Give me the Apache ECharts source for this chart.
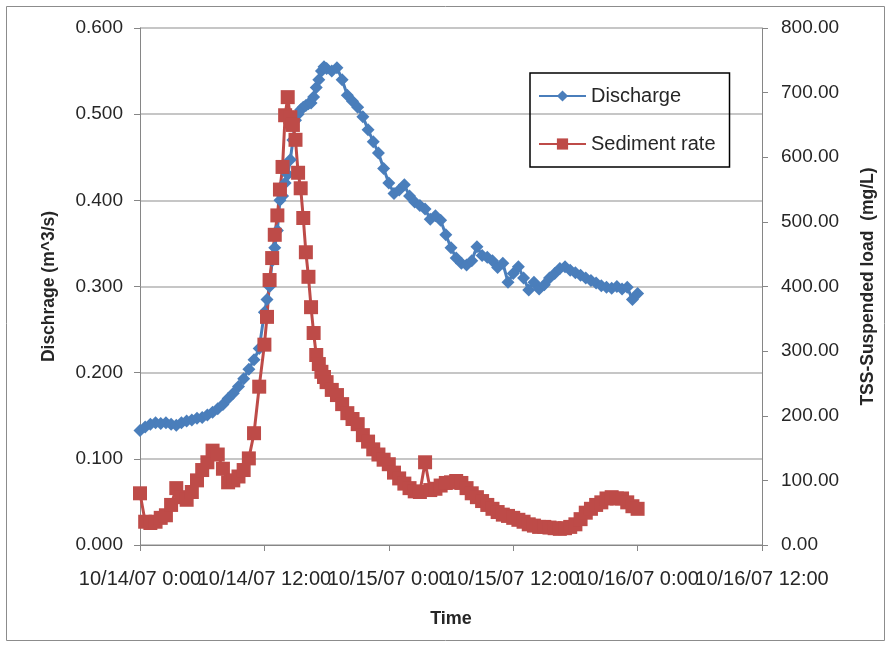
<!DOCTYPE html>
<html>
<head>
<meta charset="utf-8">
<script src="https://cdn.jsdelivr.net/npm/echarts@6/dist/echarts.min.js"></script>
<style>
  html, body { margin: 0; padding: 0; background: #fff; }
  #box { width: 891px; height: 649px; }
</style>
</head>
<body>
<div id="box"></div>
<script>
// hours since 10/14/07 0:00 (15-minute steps around the peak)
var hours = [
    0, 0.5, 1, 1.5, 2, 2.5, 3, 3.5, 4, 4.5, 5, 5.5, 6, 6.5, 7, 7.5, 8, 8.5, 9, 9.5, 10, 10.5, 11, 11.5,
    12, 12.25, 12.5, 12.75, 13, 13.25, 13.5, 13.75, 14, 14.25, 14.5, 14.75, 15, 15.25, 15.5, 15.75,
    16, 16.25, 16.5, 16.75, 17, 17.25, 17.5, 17.75,
    18, 18.5, 19, 19.5, 20, 20.5, 21, 21.5, 22, 22.5, 23, 23.5, 24, 24.5, 25, 25.5, 26, 26.5, 27, 27.5,
    28, 28.5, 29, 29.5, 30, 30.5, 31, 31.5, 32, 32.5, 33, 33.5, 34, 34.5, 35, 35.5, 36, 36.5, 37, 37.5,
    38, 38.5, 39, 39.5, 40, 40.5, 41, 41.5, 42, 42.5, 43, 43.5, 44, 44.5, 45, 45.5, 46, 46.5, 47, 47.5, 48
];

// Discharge (m^3/s)
var discharge = [
    0.133, 0.137, 0.140, 0.142, 0.141, 0.142, 0.140, 0.139, 0.142, 0.144, 0.145, 0.147, 0.148, 0.151, 0.154, 0.158,
    0.163, 0.170, 0.176, 0.184, 0.193, 0.204, 0.215, 0.228,
    0.270, 0.285, 0.300, 0.330, 0.345, 0.365, 0.400, 0.405, 0.420, 0.430, 0.447, 0.470, 0.493, 0.500, 0.505, 0.508,
    0.510, 0.512, 0.513, 0.520, 0.531, 0.540, 0.550, 0.555,
    0.553, 0.550, 0.554, 0.540, 0.522, 0.515, 0.508, 0.497, 0.482, 0.468, 0.455, 0.437, 0.420, 0.408, 0.412, 0.418,
    0.405, 0.398, 0.394, 0.390, 0.378, 0.382, 0.377, 0.360, 0.345, 0.333, 0.327, 0.325, 0.330, 0.346, 0.336, 0.334,
    0.330, 0.322, 0.327, 0.305, 0.315, 0.323, 0.310, 0.296, 0.305, 0.297, 0.302, 0.310, 0.315, 0.321, 0.323, 0.319,
    0.316, 0.313, 0.310, 0.307, 0.304, 0.301, 0.299, 0.298, 0.300, 0.297, 0.299, 0.285, 0.292
];

// TSS-Suspended load (mg/L)
var sediment = [
    80, 36, 34, 36, 42, 46, 62, 88, 74, 70, 82, 100, 116, 128, 146, 140, 118, 97, 100, 106, 116, 134, 173, 245,
    310, 353, 410, 444, 480, 510, 550, 585, 665, 693, 662, 650, 627, 576, 552, 506,
    453, 415, 368, 328, 294, 280, 268, 260,
    252, 240, 232, 218, 204, 195, 187, 170, 160, 148, 140, 132, 125, 112, 103, 95, 88, 83, 82, 128,
    85, 87, 92, 96, 97, 99, 96, 88, 80, 74, 68, 62, 56, 51, 47, 45, 42, 39, 36, 32,
    30, 28, 28, 27, 26, 25, 26, 28, 32, 40, 50, 56, 62, 66, 72, 74, 72, 72, 66, 60, 56
];

var tickLabels = ['10/14/07 0:00', '10/14/07 12:00', '10/15/07 0:00', '10/15/07 12:00', '10/16/07 0:00', '10/16/07 12:00'];

function pairs(vals) {
    return vals.map(function (v, i) { return [hours[i], v]; });
}

var font = 'Liberation Sans, Arial, sans-serif';

// two stacked bottom axes so the overlapping date labels all stay visible
function timeAxis(odd) {
    return {
        type: 'value',
        min: 0,
        max: 60,
        interval: 12,
        position: 'bottom',
        name: odd ? '' : 'Time',
        nameLocation: 'middle',
        nameGap: 65,
        nameTextStyle: { fontFamily: font, fontSize: 18, fontWeight: 'bold', color: '#262626' },
        axisLine: { show: !odd, onZero: false, lineStyle: { color: '#868686', width: 1 } },
        axisTick: { show: true, length: 6, lineStyle: { color: '#868686' } },
        splitLine: { show: false },
        axisLabel: {
            margin: 24,
            fontSize: 20,
            color: '#262626',
            showMinLabel: true,
            showMaxLabel: true,
            formatter: function (v) {
                var k = Math.round(v / 12);
                return (k % 2 === 1) === odd ? tickLabels[k] : '';
            }
        }
    };
}

var myChart = echarts.init(document.getElementById('box'));
var option = {
    backgroundColor: '#fff',
    animation: false,
    textStyle: { fontFamily: font },
    graphic: [{
        type: 'rect',
        shape: { x: 6.5, y: 6.5, width: 878, height: 634 },
        style: { fill: 'none', stroke: '#8c8c8c', lineWidth: 1 },
        silent: true
    }],
    grid: { left: 140, right: 129, top: 28, bottom: 104 },
    legend: {
        orient: 'vertical',
        left: 530,
        top: 73,
        padding: [13, 14, 13, 8],
        itemGap: 28,
        itemWidth: 47,
        itemHeight: 14,
        borderColor: '#000',
        borderWidth: 1.5,
        textStyle: { fontFamily: font, fontSize: 20, color: '#262626' },
        data: ['Discharge', 'Sediment rate']
    },
    xAxis: [timeAxis(false), timeAxis(true)],
    yAxis: [
        {
            type: 'value',
            position: 'left',
            min: 0,
            max: 0.6,
            interval: 0.1,
            name: 'Dischrage (m^3/s)',
            nameLocation: 'middle',
            nameGap: 82,
            nameTextStyle: { fontFamily: font, fontSize: 17.5, fontWeight: 'bold', color: '#262626' },
            axisLine: { show: true, onZero: false, lineStyle: { color: '#868686', width: 1 } },
            axisTick: { show: true, length: 6, lineStyle: { color: '#868686' } },
            splitLine: { show: true, lineStyle: { color: '#b3b3b3', width: 1.5 } },
            axisLabel: {
                margin: 17,
                fontSize: 19,
                color: '#262626',
                formatter: function (v) { return v.toFixed(3); }
            }
        },
        {
            type: 'value',
            position: 'right',
            min: 0,
            max: 800,
            interval: 100,
            name: 'TSS-Suspended load  (mg/L)',
            nameLocation: 'middle',
            nameGap: 97,
            nameRotate: 90,
            nameTextStyle: { fontFamily: font, fontSize: 17.5, fontWeight: 'bold', color: '#262626' },
            axisLine: { show: true, onZero: false, lineStyle: { color: '#868686', width: 1 } },
            axisTick: { show: true, length: 6, lineStyle: { color: '#868686' } },
            splitLine: { show: false },
            axisLabel: {
                margin: 19,
                fontSize: 19,
                color: '#262626',
                formatter: function (v) { return v.toFixed(2); }
            }
        }
    ],
    series: [
        {
            name: 'Discharge',
            type: 'line',
            xAxisIndex: 0,
            yAxisIndex: 0,
            data: pairs(discharge),
            symbol: 'diamond',
            symbolSize: 13,
            showAllSymbol: true,
            color: '#4a7ebb',
            lineStyle: { width: 3, color: '#4a7ebb' },
            itemStyle: { color: '#4a7ebb' }
        },
        {
            name: 'Sediment rate',
            type: 'line',
            xAxisIndex: 0,
            yAxisIndex: 1,
            data: pairs(sediment),
            symbol: 'rect',
            symbolSize: 14,
            showAllSymbol: true,
            color: '#be4b48',
            lineStyle: { width: 3, color: '#be4b48' },
            itemStyle: { color: '#be4b48' }
        }
    ]
};

option && myChart.setOption(option);
</script>
</body>
</html>
